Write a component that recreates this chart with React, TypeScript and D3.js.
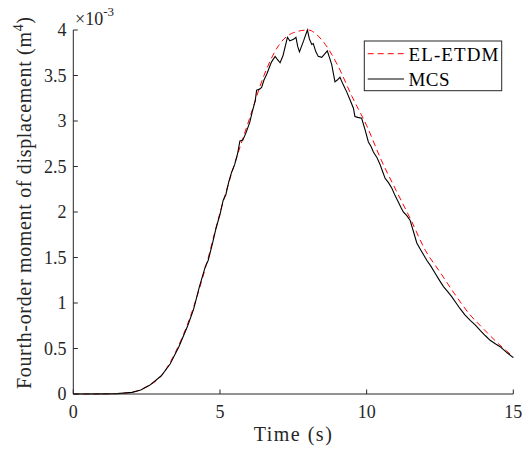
import React from "react";
import * as d3 from "d3";

const elTime = [0, 0.5, 1, 1.5, 2, 2.5, 3, 3.5, 4, 4.5, 5, 5.5, 6, 6.5, 7, 7.5, 8, 8.5, 9, 9.5, 10, 10.5, 11, 11.5, 12, 12.5, 13, 13.5, 14, 14.5, 15];
const elValue = [0, 0, 0.001, 0.005, 0.018, 0.08, 0.2, 0.47, 0.86, 1.38, 1.99, 2.53, 3.02, 3.5, 3.83, 3.97, 4.0, 3.88, 3.62, 3.27, 2.95, 2.57, 2.24, 1.92, 1.58, 1.34, 1.1, 0.88, 0.71, 0.55, 0.41];

const mcsTime = [0, 1, 1.5, 2, 2.3, 2.6, 3.0, 3.3, 3.6, 3.9, 4.1, 4.3, 4.5, 4.6, 4.75, 4.85, 4.9, 5.0, 5.11, 5.2, 5.3, 5.4, 5.5, 5.6, 5.68, 5.78, 5.9, 6.02, 6.1, 6.2, 6.25, 6.35, 6.42, 6.5, 6.6, 6.65, 6.72, 6.76, 6.88, 6.95, 7.05, 7.15, 7.3, 7.38, 7.45, 7.52, 7.59, 7.65, 7.71, 7.85, 7.98, 8.05, 8.13, 8.18, 8.27, 8.35, 8.47, 8.58, 8.66, 8.75, 8.81, 8.92, 9.0, 9.09, 9.2, 9.32, 9.45, 9.55, 9.6, 9.7, 9.83, 9.95, 10.06, 10.15, 10.23, 10.35, 10.46, 10.55, 10.63, 10.75, 10.86, 10.97, 11.08, 11.17, 11.25, 11.37, 11.48, 11.6, 11.71, 11.85, 12.05, 12.2, 12.33, 12.5, 12.62, 12.75, 12.9, 13.05, 13.18, 13.35, 13.53, 13.7, 13.87, 14.05, 14.21, 14.4, 14.55, 14.8, 15];
const mcsValue = [0, 0.001, 0.004, 0.018, 0.045, 0.095, 0.2, 0.33, 0.52, 0.75, 0.93, 1.18, 1.4, 1.47, 1.66, 1.8, 1.86, 1.97, 2.13, 2.19, 2.33, 2.44, 2.52, 2.64, 2.78, 2.79, 2.88, 2.99, 3.1, 3.22, 3.34, 3.35, 3.37, 3.45, 3.52, 3.56, 3.62, 3.65, 3.71, 3.68, 3.64, 3.72, 3.92, 3.88, 3.89, 3.9, 3.92, 3.82, 3.76, 3.88, 4.0, 3.9, 3.84, 3.85, 3.76, 3.71, 3.7, 3.74, 3.77, 3.68, 3.62, 3.43, 3.45, 3.48, 3.4, 3.32, 3.22, 3.14, 3.05, 3.04, 3.03, 2.9, 2.77, 2.72, 2.66, 2.6, 2.52, 2.44, 2.37, 2.32, 2.26, 2.18, 2.11, 2.05, 2.0, 1.96, 1.91, 1.78, 1.66, 1.58, 1.47, 1.4, 1.33, 1.24, 1.18, 1.13, 1.07, 1.0, 0.94, 0.87, 0.81, 0.76, 0.7, 0.64, 0.59, 0.55, 0.52, 0.45, 0.4];

const xTicks = [0, 5, 10, 15];
const xTickLabels = ["0", "5", "10", "15"];
const yTicks = [0, 0.5, 1, 1.5, 2, 2.5, 3, 3.5, 4];
const yTickLabels = ["0", "0.5", "1", "1.5", "2", "2.5", "3", "3.5", "4"];
const seriesNames = ["EL-ETDM", "MCS"];

const FONT = '"Liberation Serif", "DejaVu Serif", serif';

export default function App() {
  const left = 73.3, right = 513.3, top = 30, bottom = 394;
  const x = d3.scaleLinear().domain([0, 15]).range([left, right]);
  const y = d3.scaleLinear().domain([0, 4]).range([bottom, top]);
  const axisColor = "#262626";
  const ts = { fontFamily: FONT };

  const elLine = d3.line<number>().x((_, i) => x(elTime[i])).y((d) => y(d)).curve(d3.curveMonotoneX);
  const mcsLine = d3.line<number>().x((_, i) => x(mcsTime[i])).y((d) => y(d));

  const tickLen = 4.5;
  const legX = 364.3, legY = 41, legW = 137.4, legH = 49.7;

  return (
    <svg width={530} height={450} style={{ position: "absolute", left: 0, top: 0, display: "block", background: "#fff", fontFamily: FONT }}>
      <rect x={0} y={0} width={530} height={450} fill="#fff" />
      <path d={elLine(elValue) || ""} fill="none" stroke="#ff0000" strokeWidth={1} strokeDasharray="6,4" />
      <path d={mcsLine(mcsValue) || ""} fill="none" stroke="#000" strokeWidth={1.1} />
      <line x1={left} x2={right} y1={bottom} y2={bottom} stroke={axisColor} strokeWidth={1} />
      <line x1={left} x2={left} y1={top} y2={bottom} stroke={axisColor} strokeWidth={1} />
      {xTicks.map((t, i) => (
        <g key={"x" + i}>
          <line x1={x(t)} x2={x(t)} y1={bottom} y2={bottom - tickLen} stroke={axisColor} strokeWidth={1} />
          <text x={x(t)} y={418} textAnchor="middle" fontSize={18} fill={axisColor} style={ts}>{xTickLabels[i]}</text>
        </g>
      ))}
      {yTicks.map((t, i) => (
        <g key={"y" + i}>
          <line x1={left} x2={left + tickLen} y1={y(t)} y2={y(t)} stroke={axisColor} strokeWidth={1} />
          <text x={66.5} y={y(t) + 6} textAnchor="end" fontSize={18} fill={axisColor} style={ts}>{yTickLabels[i]}</text>
        </g>
      ))}
      <text x={75} y={25} fontSize={18} fill={axisColor} style={ts}>
        ×10<tspan dy={-9} fontSize={13}>-3</tspan>
      </text>
      <text x={(left + right) / 2 - 0.5} y={440.5} textAnchor="middle" fontSize={20} fill={axisColor} style={ts} textLength={78} lengthAdjust="spacing">Time (s)</text>
      <text transform={`translate(31,203) rotate(-90)`} textAnchor="middle" fontSize={20} fill={axisColor} style={ts} textLength={372} lengthAdjust="spacing">
        Fourth-order moment of displacement (m<tspan dy={-8} fontSize={14}>4</tspan><tspan dy={8}>)</tspan>
      </text>
      <rect x={legX} y={legY} width={legW} height={legH} fill="#fff" stroke={axisColor} strokeWidth={1} />
      <line x1={367.7} x2={404} y1={53.7} y2={53.7} stroke="#ff0000" strokeWidth={1} strokeDasharray="6,4" />
      <text x={408.5} y={60.5} fontSize={19} fill="#000" style={ts} textLength={90} lengthAdjust="spacing">{seriesNames[0]}</text>
      <line x1={367.7} x2={404} y1={79} y2={79} stroke="#000" strokeWidth={1.1} />
      <text x={408.5} y={85.5} fontSize={19} fill="#000" style={ts} textLength={41} lengthAdjust="spacing">{seriesNames[1]}</text>
    </svg>
  );
}
